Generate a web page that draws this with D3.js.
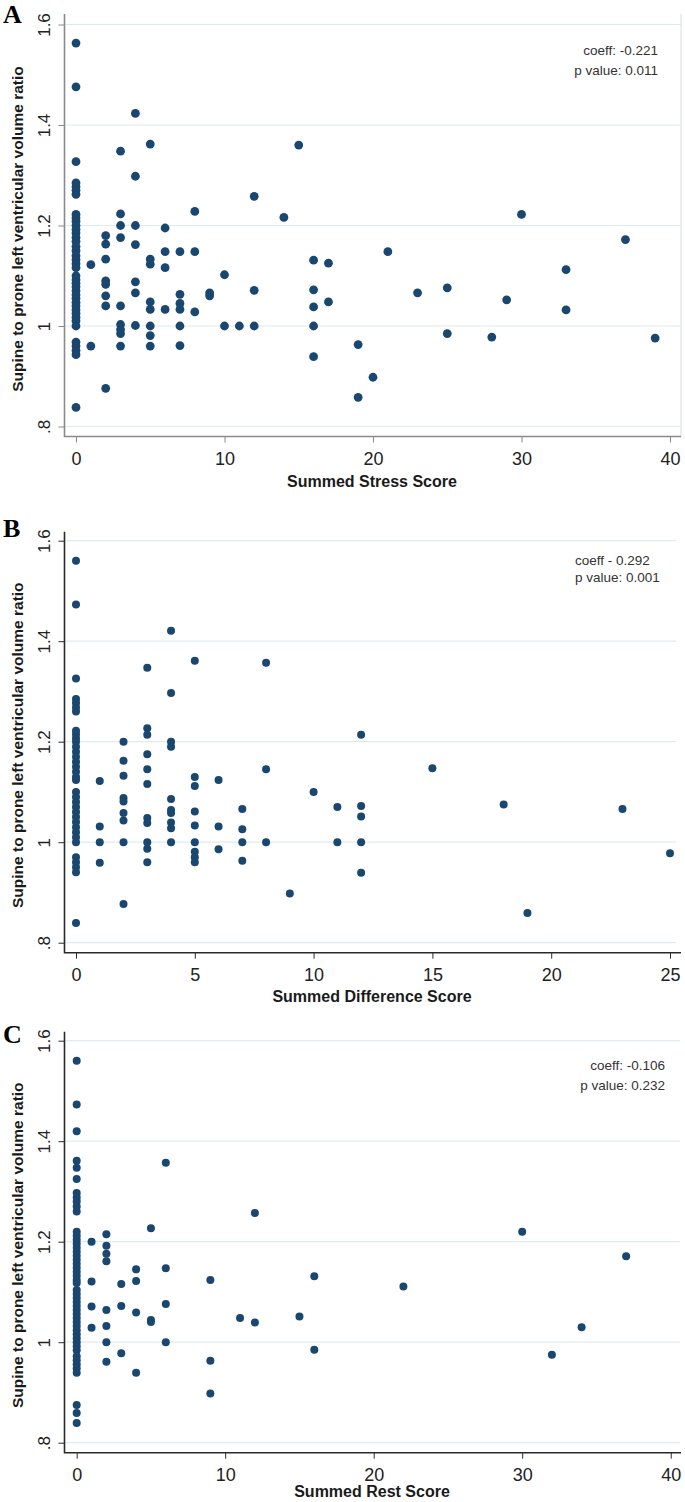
<!DOCTYPE html>
<html>
<head>
<meta charset="utf-8">
<script src="https://cdn.jsdelivr.net/npm/d3@7"></script>
<style>
  body { margin: 0; background: #fff; }
  svg { display: block; font-family: Arial, "Liberation Sans", sans-serif; }
</style>
</head>
<body>
<svg id="chart" width="685" height="1502"></svg>
<script>
// ratio ticks shared by all three panels
const ratioTicks = [0.8, 1, 1.2, 1.4, 1.6];

// A: summed stress score, ratios listed per score
const stressScores = [0, 1, 2, 3, 4, 5, 6, 7, 8, 9, 10, 11, 12, 14, 15, 16, 17, 19, 20, 21, 23, 25, 28, 29, 30, 33, 37, 39];
const stressRatios = [
  [1.563, 1.476, 1.327, 1.285, 1.277, 1.27, 1.262, 1.222, 1.215, 1.208, 1.2, 1.192, 1.185, 1.176, 1.168,
   1.158, 1.15, 1.14, 1.132, 1.124, 1.116, 1.1, 1.092, 1.085, 1.078, 1.07, 1.062, 1.055, 1.047, 1.04,
   1.032, 1.025, 1.017, 1.01, 1.0, 0.968, 0.96, 0.951, 0.943, 0.838],
  [1.122, 0.96],
  [1.18, 1.163, 1.133, 1.09, 1.083, 1.06, 1.04, 0.876],
  [1.348, 1.223, 1.2, 1.176, 1.04, 1.003, 0.993, 0.985, 0.96],
  [1.423, 1.298, 1.2, 1.162, 1.088, 1.066, 1.001],
  [1.362, 1.133, 1.123, 1.048, 1.033, 1.0, 0.981, 0.96],
  [1.195, 1.148, 1.116, 1.033],
  [1.148, 1.063, 1.045, 1.033, 1.0, 0.961],
  [1.228, 1.148, 1.028],
  [1.066, 1.06],
  [1.102, 1.0],
  [1.0],
  [1.258, 1.071, 1.0],
  [1.216],
  [1.36],
  [1.131, 1.072, 1.038, 1.0, 0.939],
  [1.125, 1.048],
  [0.963, 0.858],
  [0.898],
  [1.148],
  [1.066],
  [1.076, 0.985],
  [0.978],
  [1.052],
  [1.222],
  [1.112, 1.032],
  [1.172],
  [0.976]
];

// B: summed difference score
const diffScores = [0, 1, 2, 3, 4, 5, 6, 7, 8, 9, 10, 11, 12, 15, 18, 19, 23, 25];
const diffRatios = [
  [1.56, 1.473, 1.326, 1.285, 1.277, 1.268, 1.26, 1.222, 1.215, 1.207, 1.2, 1.19, 1.18, 1.17, 1.16,
   1.15, 1.14, 1.13, 1.124, 1.1, 1.09, 1.08, 1.07, 1.06, 1.05, 1.04, 1.03, 1.02, 1.01, 1.0,
   0.97, 0.96, 0.95, 0.94, 0.839],
  [1.122, 1.031, 1.0, 0.959],
  [1.2, 1.162, 1.132, 1.088, 1.081, 1.058, 1.043, 1.0, 0.877],
  [1.347, 1.227, 1.214, 1.175, 1.145, 1.116, 1.048, 1.038, 1.0, 0.987, 0.96],
  [1.421, 1.297, 1.2, 1.19, 1.086, 1.064, 1.058, 1.039, 1.028, 1.0],
  [1.361, 1.13, 1.112, 1.061, 1.033, 1.0, 0.981, 0.97, 0.96],
  [1.124, 1.031, 0.986],
  [1.066, 1.026, 1.0, 0.963],
  [1.357, 1.145, 1.0],
  [0.898],
  [1.1],
  [1.07, 1.0],
  [1.214, 1.072, 1.051, 1.0, 0.939],
  [1.147],
  [1.075],
  [0.859],
  [1.066],
  [0.978]
];

// C: summed rest score
const restScores = [0, 1, 2, 3, 4, 5, 6, 9, 11, 12, 15, 16, 22, 30, 32, 34, 37];
const restRatios = [
  [1.56, 1.473, 1.42, 1.361, 1.347, 1.325, 1.297, 1.288, 1.28, 1.27, 1.26, 1.22, 1.212, 1.204, 1.196,
   1.188, 1.18, 1.172, 1.164, 1.156, 1.148, 1.14, 1.132, 1.124, 1.118, 1.104, 1.096, 1.088, 1.08, 1.072,
   1.064, 1.056, 1.048, 1.04, 1.032, 1.024, 1.016, 1.008, 1.0, 0.992, 0.984, 0.972, 0.964, 0.956, 0.948,
   0.939, 0.875, 0.859, 0.839],
  [1.2, 1.121, 1.071, 1.029],
  [1.215, 1.192, 1.176, 1.161, 1.064, 1.032, 1.0, 0.961],
  [1.116, 1.072, 0.978],
  [1.145, 1.122, 1.059, 0.939],
  [1.227, 1.044, 1.04],
  [1.357, 1.147, 1.076, 1.0],
  [1.124, 0.963, 0.898],
  [1.048],
  [1.257, 1.039],
  [1.051],
  [1.131, 0.985],
  [1.111],
  [1.22],
  [0.975],
  [1.03],
  [1.171]
];

const panels = [
  { letter: "A", oy: 0, letterY: 23, scores: stressScores, ratios: stressRatios, xMax: 40, xTicks: [0, 10, 20, 30, 40],
    x0: 76, title: "Summed Stress Score", titleY: 487, notes: ["coeff: -0.221", "p value: 0.011"], noteX: 658, noteAnchor: "end",
    noteY: [55, 75], axisColor: "#8a8a8a", frame: true, r: 4.4, gridEnd: 681 },
  { letter: "B", oy: 516.2, letterY: 21, scores: diffScores, ratios: diffRatios, xMax: 25, xTicks: [0, 5, 10, 15, 20, 25],
    x0: 76, title: "Summed Difference Score", titleY: 486, notes: ["coeff - 0.292", "p value: 0.001"], noteX: 575, noteAnchor: "start",
    noteY: [49, 66], axisColor: "#2a2a2a", frame: false, r: 4, gridEnd: 676 },
  { letter: "C", oy: 1016.2, letterY: 27, scores: restScores, ratios: restRatios, xMax: 40, xTicks: [0, 10, 20, 30, 40],
    x0: 76.7, title: "Summed Rest Score", titleY: 481, notes: ["coeff: -0.106", "p value: 0.232"], noteX: 665, noteAnchor: "end",
    noteY: [54, 74], axisColor: "#2a2a2a", frame: false, r: 4, gridEnd: 680 }
];

const svg = d3.select("#chart");
const fmtRatio = d => String(d).replace(/^0/, "");

panels.forEach(p => {
  const g = svg.append("g").attr("transform", `translate(0,${p.oy})`);
  const x = d3.scaleLinear().domain([0, p.xMax]).range([p.x0, p.x0 + 594]);
  const y = d3.scaleLinear().domain([0.8, 1.6]).range([426.5, 24.5]);

  // horizontal grid
  g.append("g").selectAll("line").data(ratioTicks).join("line")
    .attr("x1", 65).attr("x2", p.gridEnd)
    .attr("y1", d => y(d)).attr("y2", d => y(d))
    .attr("stroke", "#e0ebf0").attr("stroke-width", 1.2);

  if (p.frame) {
    g.append("line").attr("x1", 681).attr("x2", 681).attr("y1", 14).attr("y2", 437)
      .attr("stroke", "#d8dde0").attr("stroke-width", 1);
  }

  // y axis
  const yAxis = g.append("g").attr("transform", "translate(64.5,0)")
    .call(d3.axisLeft(y).tickValues(ratioTicks).tickSize(6).tickFormat(fmtRatio));
  yAxis.select(".domain").remove();
  yAxis.selectAll(".tick line").attr("stroke", p.axisColor);
  yAxis.selectAll(".tick text")
    .attr("x", null).attr("dy", null)
    .attr("text-anchor", "middle")
    .attr("transform", "translate(-14.5,0) rotate(-90)")
    .attr("font-size", 17).attr("fill", "#222");

  // x axis
  const xAxis = g.append("g").attr("transform", "translate(0,436.5)")
    .call(d3.axisBottom(x).tickValues(p.xTicks).tickSize(6).tickFormat(d3.format("d")));
  xAxis.select(".domain").remove();
  xAxis.selectAll(".tick line").attr("stroke", p.axisColor);
  xAxis.selectAll(".tick text").attr("y", 28).attr("dy", null)
    .attr("font-size", 18).attr("fill", "#222");

  // axis lines
  g.append("path")
    .attr("d", `M64.5,${p.frame ? 14 : 15.5}V436.5H681`)
    .attr("fill", "none").attr("stroke", p.axisColor).attr("stroke-width", 1.6);

  // points
  const pts = p.scores.flatMap((s, i) => p.ratios[i].map(v => [s, v]));
  g.append("g").selectAll("circle").data(pts).join("circle")
    .attr("cx", d => x(d[0])).attr("cy", d => y(d[1]))
    .attr("r", p.r).attr("fill", "#1a476f");

  // titles
  g.append("text").attr("x", 372).attr("y", p.titleY)
    .attr("text-anchor", "middle").attr("font-weight", "bold").attr("font-size", 16)
    .attr("fill", "#1a1a1a").text(p.title);
  g.append("text").attr("transform", "translate(22.5,229) rotate(-90)")
    .attr("text-anchor", "middle").attr("font-weight", "bold").attr("font-size", 15.5)
    .attr("fill", "#1a1a1a").text("Supine to prone left ventricular volume ratio");

  g.append("text").attr("x", 3).attr("y", p.letterY)
    .attr("font-family", "'Times New Roman', 'Liberation Serif', serif")
    .attr("font-weight", "bold").attr("font-size", 26).attr("fill", "#000").text(p.letter);

  g.append("g").selectAll("text").data(p.notes).join("text")
    .attr("x", p.noteX).attr("y", (d, i) => p.noteY[i])
    .attr("text-anchor", p.noteAnchor).attr("font-size", 13.5).attr("fill", "#333")
    .text(d => d);
});
</script>
</body>
</html>
